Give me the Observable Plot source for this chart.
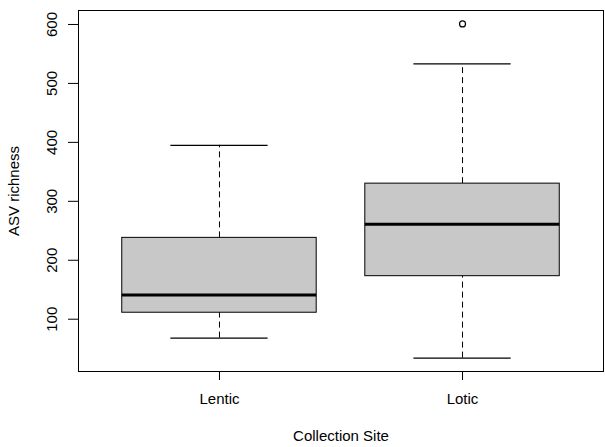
<!DOCTYPE html>
<html>
<head>
<meta charset="utf-8">
<script src="https://cdn.jsdelivr.net/npm/d3@7"></script>
<script src="https://cdn.jsdelivr.net/npm/@observablehq/plot@0.6"></script>
<style>
  html, body { margin: 0; padding: 0; background: #fff; }
  #chart svg { display: block; }
</style>
</head>
<body>
<div id="chart"></div>
<script>
// Data
const sites = ["Lentic", "Lotic"];
const whiskerLow = [68, 34];
const q1 = [111, 173];
const median = [141, 261];
const q3 = [238, 330];
const whiskerHigh = [395, 533];
const outlierSite = ["Lotic"];
const outlierValue = [601];
const yTicks = [100, 200, 300, 400, 500, 600];

const boxes = sites.map((s, i) => ({
  site: s, pos: i + 1,
  lo: whiskerLow[i], q1: q1[i], med: median[i], q3: q3[i], hi: whiskerHigh[i]
}));
const outliers = outlierSite.map((s, i) => ({pos: sites.indexOf(s) + 1, value: outlierValue[i]}));

const halfBox = 0.4, halfCap = 0.2;
const font = "'Liberation Sans', Arial, Helvetica, sans-serif";

const chart = Plot.plot({
  width: 605,
  height: 447,
  marginLeft: 78,
  marginRight: 2,
  marginTop: 10,
  marginBottom: 76,
  style: {fontFamily: font, fontSize: "15px", color: "#000", background: "#fff"},
  x: {type: "linear", domain: [0.42, 2.58]},
  y: {domain: [11.3, 623.7]},
  marks: [
    // whiskers (dashed)
    Plot.ruleX(boxes, {x: "pos", y1: "q3", y2: "hi", stroke: "#000", strokeWidth: 1, strokeDasharray: "6,4"}),
    Plot.ruleX(boxes, {x: "pos", y1: "lo", y2: "q1", stroke: "#000", strokeWidth: 1, strokeDasharray: "6,4"}),
    // whisker caps
    Plot.ruleY(boxes, {y: "hi", x1: d => d.pos - halfCap, x2: d => d.pos + halfCap, stroke: "#000", strokeWidth: 1.2}),
    Plot.ruleY(boxes, {y: "lo", x1: d => d.pos - halfCap, x2: d => d.pos + halfCap, stroke: "#000", strokeWidth: 1.2}),
    // boxes
    Plot.rect(boxes, {x1: d => d.pos - halfBox, x2: d => d.pos + halfBox, y1: "q1", y2: "q3", fill: "#c8c8c8", stroke: "#000", strokeWidth: 1}),
    // medians
    Plot.ruleY(boxes, {y: "med", x1: d => d.pos - halfBox, x2: d => d.pos + halfBox, stroke: "#000", strokeWidth: 3}),
    // outliers
    Plot.dot(outliers, {x: "pos", y: "value", r: 3, stroke: "#000", strokeWidth: 1.2, fill: "none"}),
    // frame
    Plot.frame({stroke: "#000", strokeWidth: 1}),
    // x axis
    Plot.axisX({ticks: [1, 2], tickFormat: d => sites[d - 1], tickSize: 9, tickPadding: 13, label: null, fontSize: 15}),
    // y axis ticks
    Plot.axisY({ticks: yTicks, tickSize: 10, tickFormat: () => "", label: null}),
    // y tick labels (rotated, as in R)
    Plot.text(yTicks, {y: d => d, text: d => String(d), frameAnchor: "left", dx: -26, rotate: -90, textAnchor: "middle", lineAnchor: "middle", fontSize: 15}),
    // axis titles
    Plot.text(["Collection Site"], {text: d => d, frameAnchor: "bottom", dy: 65, textAnchor: "middle", lineAnchor: "middle", fontSize: 15}),
    Plot.text(["ASV richness"], {text: d => d, frameAnchor: "left", dx: -64, rotate: -90, textAnchor: "middle", lineAnchor: "middle", fontSize: 15})
  ]
});
document.getElementById("chart").append(chart);
</script>
</body>
</html>
